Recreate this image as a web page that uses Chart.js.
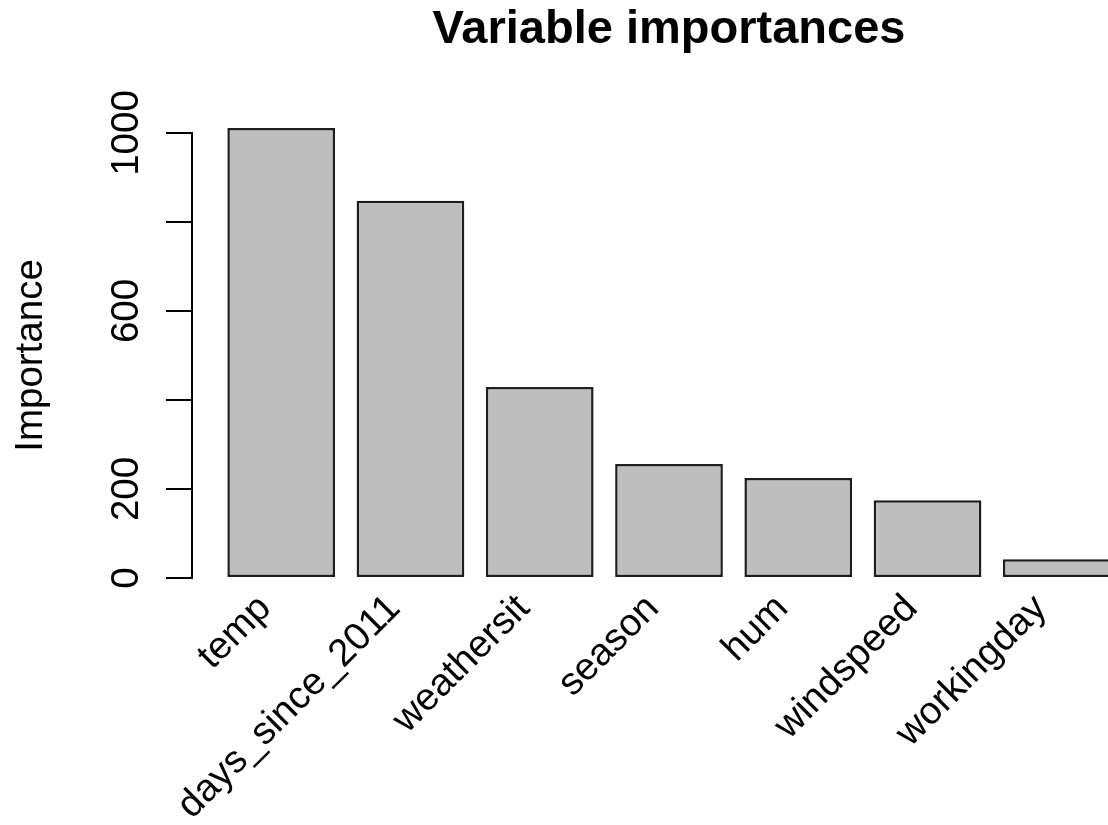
<!DOCTYPE html>
<html>
<head>
<meta charset="utf-8">
<script src="https://cdn.jsdelivr.net/npm/chart.js@4"></script>
<style>
  html, body { margin: 0; padding: 0; background: #fff; overflow: hidden; }
  #wrap { width: 1160px; height: 825px; position: relative; }
</style>
</head>
<body>
<div id="wrap"><canvas id="c"></canvas></div>
<script>
// ---- data ----
const categories = ['temp', 'days_since_2011', 'weathersit', 'season', 'hum', 'windspeed', 'workingday'];
const importance = [1011, 848, 429, 256, 225, 175, 42];
const yTicks = [0, 200, 400, 600, 800, 1000];
const yTickLabels = [0, 200, 600, 1000];
const titleText = 'Variable importances';
const yAxisTitle = 'Importance';

const FONT = '"Liberation Sans", Arial, Helvetica, sans-serif';

const yLabelPlugin = {
  id: 'yLabels',
  afterDraw(chart) {
    const ctx = chart.ctx;
    const ys = chart.scales.y;
    ctx.save();
    ctx.fillStyle = '#000';
    ctx.font = '38.5px ' + FONT;
    ctx.textAlign = 'center';
    ctx.textBaseline = 'alphabetic';
    const bx = chart.chartArea.left - 54;
    yTickLabels.forEach(v => {
      const py = ys.getPixelForValue(v);
      ctx.save();
      ctx.translate(bx, py);
      ctx.rotate(-Math.PI / 2);
      ctx.fillText(String(v), 0, 0);
      ctx.restore();
    });
    ctx.restore();
  }
};

new Chart(document.getElementById('c'), {
  type: 'bar',
  data: {
    datasets: [{
      data: importance.map((v, i) => ({ x: i, y: v })),
      backgroundColor: '#bebebe',
      borderColor: '#1e1e1e',
      borderWidth: 2.5,
      borderSkipped: false,
      categoryPercentage: 1,
      barPercentage: 1 / 1.2,
      clip: false
    }]
  },
  options: {
    responsive: true,
    maintainAspectRatio: false,
    devicePixelRatio: 1,
    animation: false,
    events: [],
    layout: { padding: { left: 0, top: 0, right: 14, bottom: 0 } },
    plugins: {
      legend: { display: false },
      tooltip: { enabled: false },
      title: {
        display: true,
        text: titleText,
        color: '#000',
        fullSize: false,
        font: { family: FONT, size: 47, weight: 'bold', lineHeight: 1 },
        padding: { top: 7, bottom: 79 }
      }
    },
    scales: {
      x: {
        type: 'linear',
        min: -0.69,
        max: 6.69,
        offset: false,
        grid: { display: false, drawTicks: false },
        border: { display: false },
        afterBuildTicks(scale) {
          scale.ticks = categories.map((_, i) => ({ value: i }));
        },
        afterFit(scale) { scale.height = 247; },
        ticks: {
          autoSkip: false,
          maxRotation: 45,
          minRotation: 45,
          padding: 8,
          labelOffset: -16,
          color: '#000',
          font: { family: FONT, size: 38.5 },
          callback: (value) => categories[value]
        }
      },
      y: {
        min: 0,
        max: 1000,
        afterBuildTicks(scale) {
          scale.ticks = yTicks.map(v => ({ value: v }));
        },
        afterFit(scale) { scale.width = 192; },
        grid: {
          display: true,
          drawOnChartArea: false,
          drawTicks: true,
          tickLength: 26,
          color: '#000',
          lineWidth: 2
        },
        border: { display: true, color: '#000', width: 2 },
        ticks: { display: false },
        title: {
          display: true,
          text: yAxisTitle,
          color: '#000',
          font: { family: FONT, size: 38.5, lineHeight: 1 },
          padding: { top: 12, bottom: 0 }
        }
      }
    }
  },
  plugins: [yLabelPlugin]
});
</script>
</body>
</html>
